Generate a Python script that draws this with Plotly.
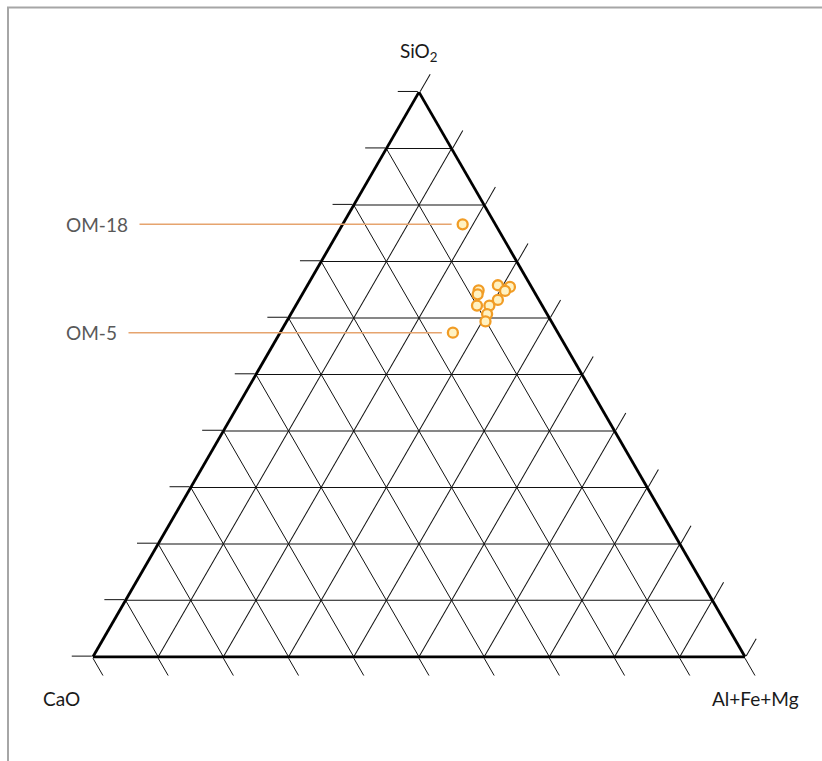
import math
import plotly.graph_objects as go

# Sample compositions (wt.% normalised to 100): SiO2, CaO, Al+Fe+Mg
sio2 = [76.6, 57.4, 64.9, 64.2, 65.8, 65.5, 64.8, 63.2, 62.2, 62.2, 60.7, 59.4]
cao = [5.0, 16.1, 8.4, 8.9, 5.0, 3.3, 4.4, 6.3, 10.0, 8.1, 9.2, 10.1]
alfemg = [18.4, 26.5, 26.7, 26.9, 29.2, 31.2, 30.8, 30.5, 27.8, 29.7, 30.1, 30.5]
sample_names = ["OM-18", "OM-5", "", "", "", "", "", "", "", "", "", ""]
labelled = ["OM-18", "OM-5"]

W, H = 822, 761
DOM_X = [0.1131, 0.9063]
DOM_Y = [0.1079, 0.9079]

fig = go.Figure()
fig.add_trace(go.Scatterternary(
    a=sio2, b=cao, c=alfemg,
    text=sample_names,
    mode="markers",
    marker=dict(symbol="circle", size=10, color="#FFF2C2",
                line=dict(color="#F19C25", width=2.3)),
    hoverinfo="a+b+c+text",
    showlegend=False,
))

axis_style = dict(
    min=0, dtick=10, showgrid=True, gridcolor="#111111", gridwidth=1.1,
    ticks="outside", ticklen=20, tickwidth=1.3, tickcolor="#111111",
    showticklabels=False, showline=True, linecolor="#000000", linewidth=2.8,
    title=dict(text=" "),
)

fig.update_layout(
    width=W, height=H,
    margin=dict(l=0, r=0, t=0, b=0),
    paper_bgcolor="white",
    ternary=dict(
        sum=100,
        domain=dict(x=DOM_X, y=DOM_Y),
        bgcolor="white",
        aaxis=axis_style, baxis=axis_style, caxis=axis_style,
    ),
    font=dict(family="Lato, 'Open Sans', sans-serif"),
)


def ternary_to_px(a, b, c):
    """Map a composition onto page pixels using the ternary domain geometry."""
    s3 = math.sqrt(3)
    dw = (DOM_X[1] - DOM_X[0]) * W
    dh = (DOM_Y[1] - DOM_Y[0]) * H
    if dw > dh * 2 / s3:
        h = dh
        w = h * 2 / s3
    else:
        w = dw
        h = w * s3 / 2
    cx = (DOM_X[0] + DOM_X[1]) / 2 * W
    cy = (1 - (DOM_Y[0] + DOM_Y[1]) / 2) * H
    x0, y0 = cx - w / 2, cy - h / 2
    tot = a + b + c
    a, b, c = a / tot, b / tot, c / tot
    px = x0 + w * (c + a / 2)
    py = y0 + h * (1 - a)
    return px, py, (x0, y0, w, h)


# Leader labels for selected samples
label_left_px = 54
for name in labelled:
    i = sample_names.index(name)
    px, py, _ = ternary_to_px(sio2[i], cao[i], alfemg[i])
    fig.add_annotation(
        x=px / W, y=1 - py / H, xref="paper", yref="paper",
        text=name, showarrow=True, arrowhead=0, arrowwidth=1.4,
        arrowcolor="#E6A46E", standoff=11,
        ax=label_left_px - px, ay=0, axref="pixel", ayref="pixel",
        xanchor="left", yanchor="middle", borderpad=11,
        font=dict(size=19, color="#595959"),
    )

# Corner titles
_, _, (x0, y0, tw, th) = ternary_to_px(1, 0, 0)
corner_titles = [
    ("SiO<sub>2</sub>", x0 + tw / 2, y0 - 40),
    ("CaO", x0 - 31, y0 + th + 42),
    ("Al+Fe+Mg", x0 + tw + 11, y0 + th + 42),
]
for txt, tx, ty in corner_titles:
    fig.add_annotation(
        x=tx / W, y=1 - ty / H, xref="paper", yref="paper",
        text=txt, showarrow=False, xanchor="center", yanchor="middle",
        font=dict(size=19, color="#1a1a1a"),
    )

# Outer frame (left and top edges visible)
fig.add_shape(
    type="rect", xref="paper", yref="paper",
    x0=8 / W, y0=-0.05, x1=1.05, y1=1 - 7.5 / H,
    line=dict(color="#A6A6A6", width=2), fillcolor="rgba(0,0,0,0)",
    layer="below",
)

fig.write_html("out.html")
